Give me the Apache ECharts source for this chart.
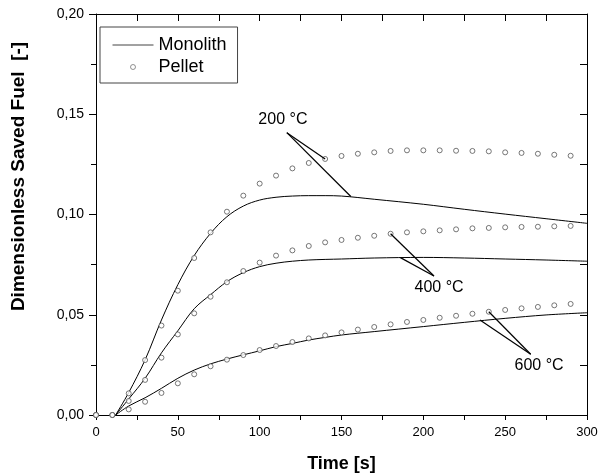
<!DOCTYPE html>
<html><head><meta charset="utf-8">
<script src="https://cdn.jsdelivr.net/npm/echarts@6/dist/echarts.min.js"></script>
<style>html,body{margin:0;padding:0;background:#fff}#c{width:602px;height:475px}</style>
</head><body><div id="c"></div>
<script>
// Pellet (measured points)
const pelletTime = [0,10,20,30,40,50,60,70,80,90,100,110,120,130,140,150,160,170,180,190,200,210,220,230,240,250,260,270,280,290];
const pellet200 = [0,0,0.0108,0.0274,0.0446,0.0620,0.0783,0.0911,0.1014,0.1094,0.1154,0.1194,0.1230,0.1257,0.1277,0.1292,0.1303,0.1310,0.1317,0.1320,0.1320,0.1320,0.1318,0.1317,0.1315,0.1310,0.1307,0.1303,0.1298,0.1293];
const pellet400 = [0,0,0.0070,0.0175,0.0286,0.0402,0.0507,0.0590,0.0662,0.0718,0.0760,0.0795,0.0821,0.0843,0.0861,0.0873,0.0884,0.0894,0.0904,0.0911,0.0916,0.0921,0.0926,0.0931,0.0933,0.0936,0.0938,0.0939,0.0941,0.0943];
const pellet600 = [0,0,0.0028,0.0066,0.0110,0.0158,0.0203,0.0243,0.0276,0.0299,0.0324,0.0344,0.0364,0.0382,0.0397,0.0412,0.0426,0.0439,0.0452,0.0464,0.0474,0.0485,0.0495,0.0505,0.0515,0.0524,0.0532,0.0539,0.0547,0.0554];
// Monolith (model curves)
const monoTime = [12,20,30,40,50,60,70,80,90,100,110,120,130,140,150,170,200,225,250,275,300];
const mono200 = [0,0.0112,0.0275,0.0474,0.0650,0.0795,0.0906,0.0989,0.1042,0.1072,0.1086,0.1092,0.1094,0.1094,0.1092,0.1076,0.1051,0.1026,0.1002,0.0979,0.0956];
const mono400 = [0,0.0080,0.0183,0.0310,0.0420,0.0530,0.0600,0.0665,0.0710,0.0740,0.0757,0.0767,0.0773,0.0776,0.0778,0.0783,0.0786,0.0783,0.0778,0.0773,0.0767];
const mono600 = [0,0.0045,0.0086,0.0133,0.0183,0.0224,0.0255,0.0279,0.0300,0.0320,0.0341,0.0357,0.0374,0.0387,0.0399,0.0416,0.0441,0.0462,0.0482,0.0499,0.0510];
// Annotations: label text, label position, leader apex, leader end on pellet, leader end on curve
const annoText = ['200 °C','400 °C','600 °C'];
const annoLabel = [[114.2,0.1471],[209.6,0.0635],[270.7,0.0244]];
const annoApex = [[116.6,0.1408],[206.5,0.0693],[265.6,0.0303]];
const annoPellet = [[140,0.1277],[180,0.0904],[240,0.0515]];
const annoCurve = [[155.7,0.1090],[186,0.0785],[234.6,0.0474]];

const zip = (xs, ys) => xs.map((x,i)=>[x, ys[i]]);
const FONT = 'Liberation Sans, Arial, sans-serif';

const leader = [];
for (let i=0;i<3;i++){
  leader.push([{coord:annoApex[i]},{coord:annoPellet[i]}]);
  leader.push([{coord:annoApex[i]},{coord:annoCurve[i]}]);
}
const labels = annoText.map((t,i)=>({coord:annoLabel[i], value:t}));

const lineStyle = {color:'#000', width:1};
const monoSeries = (data, extra) => Object.assign({
  name:'Monolith', type:'line', data, smooth:0.35, symbol:'none',
  lineStyle, itemStyle:{color:'#000'}, z:3, silent:true
}, extra||{});
const pelletSeries = (data) => ({
  name:'Pellet', type:'scatter', data, symbol:'circle', symbolSize:5,
  itemStyle:{color:'#fff', borderColor:'#555', borderWidth:1}, z:4, silent:true
});

const chart = echarts.init(document.getElementById('c'), null, {renderer:'canvas'});
chart.setOption({
  animation:false,
  textStyle:{fontFamily:FONT},
  grid:{left:96, right:15, top:14, bottom:60, outerBoundsMode:'none', containLabel:false},
  legend:{
    show:true,
    left:100, top:27, orient:'vertical', itemGap:4,
    padding:[9,11,7,12],
    borderColor:'#444', borderWidth:1, backgroundColor:'#fff',
    itemWidth:41, itemHeight:5,
    textStyle:{fontFamily:FONT, fontSize:18, color:'#000'},
    data:[{name:'Monolith', itemStyle:{opacity:0}, lineStyle:{width:1, color:'#444'}},
          {name:'Pellet', icon:'circle', itemStyle:{color:'#fff', borderColor:'#555', borderWidth:0.8}}]
  },
  xAxis:[{
    type:'value', min:0, max:300, interval:50, position:'bottom',
    name:'Time [s]', nameLocation:'middle', nameGap:40,
    nameTextStyle:{fontFamily:FONT, fontSize:18, fontWeight:'bold', color:'#000'},
    axisLine:{onZero:false, lineStyle:{color:'#000', width:1}},
    axisTick:{show:true, length:5, inside:false, lineStyle:{color:'#000'}},
    minorTick:{show:true, splitNumber:2, length:5, lineStyle:{color:'#000'}},
    axisLabel:{fontFamily:FONT, fontSize:13, color:'#000', margin:11},
    splitLine:{show:false}
  },{
    type:'value', min:0, max:300, interval:25, position:'top',
    axisLine:{show:true, onZero:false, lineStyle:{color:'#000', width:1}},
    axisTick:{show:true, length:7, inside:true, lineStyle:{color:'#000'}},
    axisLabel:{show:false}, splitLine:{show:false}
  }],
  yAxis:[{
    type:'value', min:0, max:0.2, interval:0.05, position:'left',
    name:'Dimensionless Saved Fuel  [-]', nameLocation:'middle', nameGap:68, nameRotate:90,
    nameTextStyle:{fontFamily:FONT, fontSize:19, fontWeight:'bold', color:'#000', padding:[0,0,0,76]},
    axisLine:{show:true, onZero:false, lineStyle:{color:'#000', width:1}},
    axisTick:{show:true, length:7, inside:false, lineStyle:{color:'#000'}},
    minorTick:{show:true, splitNumber:2, length:5, lineStyle:{color:'#000'}},
    axisLabel:{fontFamily:FONT, fontSize:14, color:'#000', margin:12,
      formatter:v=>v.toFixed(2).replace('.',',')},
    splitLine:{show:false}
  },{
    type:'value', min:0, max:0.2, interval:0.025, position:'right',
    axisLine:{show:true, onZero:false, lineStyle:{color:'#000', width:1}},
    axisTick:{show:true, length:7, inside:true, lineStyle:{color:'#000'}},
    axisLabel:{show:false}, splitLine:{show:false}
  }],
  series:[
    monoSeries(zip(monoTime, mono200), {
      markLine:{silent:true, symbol:['none','none'], label:{show:false},
        lineStyle:{color:'#000', width:1.2, type:'solid'}, data:leader},
      markPoint:{silent:true, symbol:'circle', symbolSize:0,
        label:{show:true, position:'inside', fontFamily:FONT, fontSize:16, color:'#000', formatter:p=>p.value},
        data:labels}
    }),
    monoSeries(zip(monoTime, mono400)),
    monoSeries(zip(monoTime, mono600)),
    pelletSeries(zip(pelletTime, pellet200)),
    pelletSeries(zip(pelletTime, pellet400)),
    pelletSeries(zip(pelletTime, pellet600))
  ]
});
</script></body></html>
